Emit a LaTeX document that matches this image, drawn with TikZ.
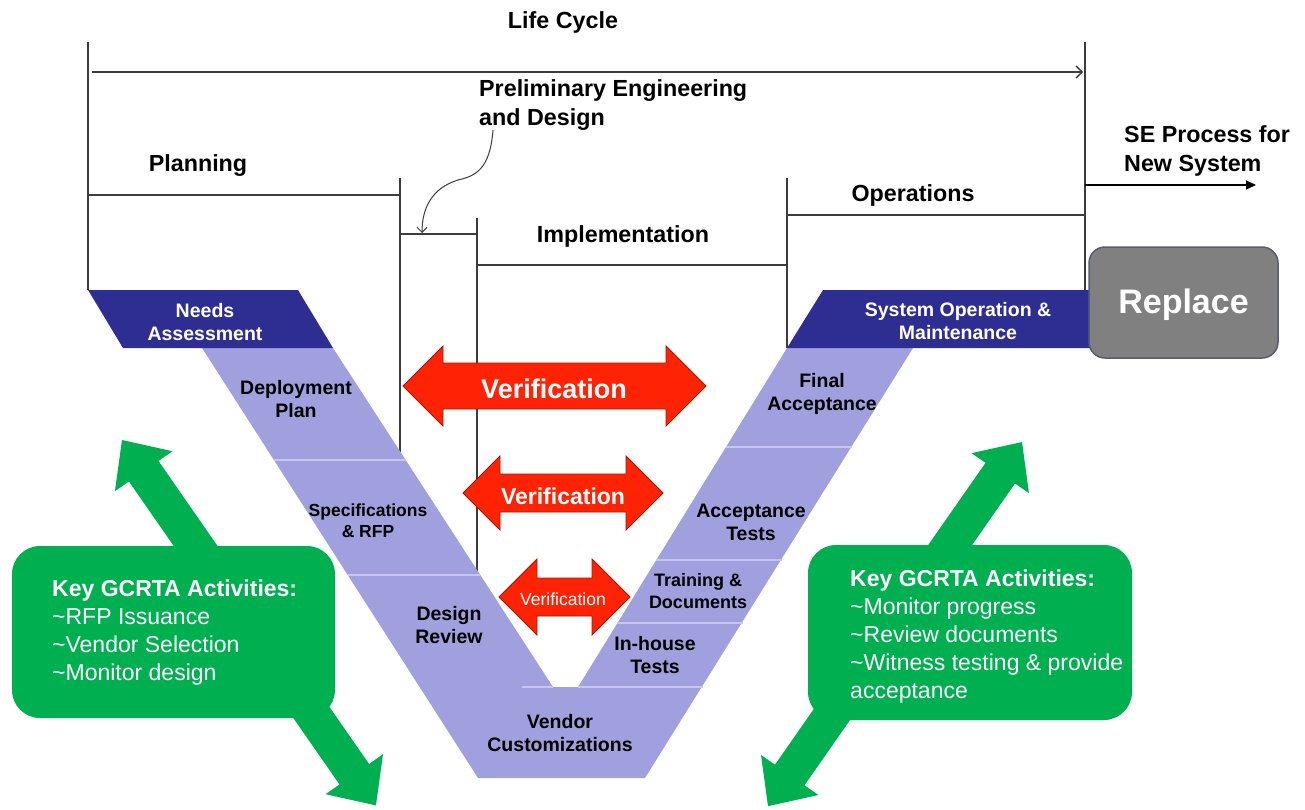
\documentclass[tikz,border=0pt]{standalone}
\usepackage{fontspec}
\setmainfont{Liberation Sans}
\usepackage{tikz}
\usetikzlibrary{arrows.meta}

\definecolor{navy}{RGB}{46,46,146}
\definecolor{lav}{RGB}{160,160,222}
\definecolor{lavline}{RGB}{198,198,238}
\definecolor{keygreen}{RGB}{0,176,80}
\definecolor{verred}{RGB}{255,35,5}
\definecolor{verdark}{RGB}{170,20,0}
\definecolor{replgray}{RGB}{128,128,128}
\definecolor{rule}{RGB}{60,60,60}

\newcommand{\fs}[2]{\fontsize{#1}{#2}\selectfont}
% double headed verification arrow: left tip, right tip, y, head half, shaft half
\newcommand{\verif}[5]{%
  \draw[verif] (#1,#3) -- ({#1+#4},{#3-#4}) -- ({#1+#4},{#3-#5}) -- ({#2-#4},{#3-#5})
    -- ({#2-#4},{#3-#4}) -- (#2,#3) -- ({#2-#4},{#3+#4}) -- ({#2-#4},{#3+#5})
    -- ({#1+#4},{#3+#5}) -- ({#1+#4},{#3+#4}) -- cycle;}
% green double arrow along the local x axis
\newcommand{\keyarrow}[1]{%
  \fill[keygreen] (0,0) -- (38,35) -- (38,18) -- ({#1-38},18) -- ({#1-38},35) -- (#1,0)
    -- ({#1-38},-35) -- ({#1-38},-18) -- (38,-18) -- (38,-35) -- cycle;}

\begin{document}
\begin{tikzpicture}[x=1pt, y=-1pt,
  line/.style={draw=rule, line width=1.3pt},
  txt/.style={inner sep=0pt, yshift=-2.5pt},
  phase/.style={txt, font=\fs{23.3}{29}\bfseries},
  vlabel/.style={txt, font=\fs{19.5}{23}\bfseries, align=center},
  vsmall/.style={txt, font=\fs{18}{22}\bfseries, align=center},
  verif/.style={fill=verred, draw=verdark, line width=0.8pt},
  keybox/.style={fill=keygreen, rounded corners=28pt},
  keytext/.style={txt, font=\fs{23}{28}, text=white, align=left, anchor=west}]
\useasboundingbox (0,0) rectangle (1305,809);

% life cycle brackets
\coordinate (lcl) at (88,42);
\coordinate (lcr) at (1085,42);
\draw[line] (lcl) -- (88,290);
\draw[line] (lcr) -- (1085,290);
\draw[line, -{Straight Barb[length=6pt,width=12pt]}] (92,72) -- (1083,72);
\node[phase] (lc) at (563,20) {Life Cycle};

\draw[line] (88,195) -- (400,195);
\draw[line] (400,178) -- (400,452);
\node[phase] (plan) at (198,163) {Planning};

\draw[line] (400,234) -- (477,234);
\draw[line] (477,218) -- (477,572);
\node[phase, align=left, anchor=west] (prelim) at (479,103) {Preliminary Engineering\\and Design};
\draw[line, line width=1pt, -{Straight Barb[length=5pt,width=10pt]}] (493,130)
  .. controls (490,170) and (475,176) .. (458,180)
  .. controls (432,188) and (422,208) .. (422,233);

\draw[line] (477,265) -- (787,265);
\draw[line] (787,178) -- (787,348);
\node[phase] (impl) at (623,234) {Implementation};

\draw[line] (787,215) -- (1085,215);
\node[phase] (ops) at (913,193) {Operations};

\coordinate (se) at (1085,185);
\coordinate (seend) at (1256,185);
\draw[draw=black, line width=1.3pt, -{Triangle[length=10pt,width=9pt]}] (se) -- (seend);
\node[phase, align=left, anchor=west] (senew) at (1124,148) {SE Process for\\New System};

% green arrows
\begin{scope}[shift={(122,440)}, rotate=-55.2]
  \keyarrow{445}
\end{scope}
\begin{scope}[shift={(1022,442)}, rotate=-124.9]
  \keyarrow{444}
\end{scope}

% the V
\fill[lav] (202,348) -- (333,348) -- (553,687) -- (578,687) -- (787,348) -- (913,348)
  -- (645,778) -- (478,778) -- cycle;
\draw[lavline, line width=1.5pt] (274,460) -- (406,460);
\draw[lavline, line width=1.5pt] (348,575) -- (480,575);
\draw[lavline, line width=1.5pt] (522,687) -- (553,687);
\draw[lavline, line width=1.5pt] (726,447) -- (852,447);
\draw[lavline, line width=1.5pt] (656,560) -- (782,560);
\draw[lavline, line width=1.5pt] (617,623) -- (743,623);
\draw[lavline, line width=1.5pt] (578,687) -- (703,687);

\fill[navy] (88,290) -- (298,290) -- (333,348) -- (123,348) -- cycle;
\fill[navy] (823,290) -- (1095,290) -- (1095,348) -- (787,348) -- cycle;

\node[vlabel, text=white] (needs) at (205,320) {Needs\\Assessment};
\node[vlabel] (deploy) at (296,397) {Deployment\\Plan};
\node[vsmall, font=\fs{17.5}{21}\bfseries] (spec) at (368,518) {Specifications\\\& RFP};
\node[vlabel] (design) at (449,623) {Design\\Review};
\node[vlabel] (vendor) at (560,731) {Vendor\\Customizations};
\node[vlabel] (inhouse) at (655,653) {In-house\\Tests};
\node[vsmall] (train) at (698,589) {Training \&\\Documents};
\node[vlabel] (acc) at (751,520) {Acceptance\\Tests};
\node[vlabel] (final) at (822,391) {Final\\Acceptance};
\node[vlabel, text=white] (sysop) at (958,319) {System Operation \&\\Maintenance};

\node[fill=replgray, draw={rgb,255:red,90;green,90;blue,120}, line width=1.5pt, rounded corners=16pt,
  minimum width=189pt, minimum height=111pt] (repl) at (1183.5,302.5) {};
\node[txt, text=white, font=\fs{34}{40}\bfseries] (repltext) at (repl.center) {Replace};

% verification arrows
\verif{403}{706}{386}{40}{23}
\verif{463}{663}{493}{37}{19}
\verif{499}{630}{597}{38}{19}
\node[txt, font=\fs{27}{30}\bfseries, text=white] (ver1) at (554,386) {Verification};
\node[txt, font=\fs{23}{26}\bfseries, text=white] (ver2) at (563,494) {Verification};
\node[txt, font=\fs{17.5}{20}, text=white] (ver3) at (563,597) {Verification};

% activity boxes
\node[keybox, minimum width=323pt, minimum height=172pt] (lbox) at (173.5,632) {};
\node[keytext] (ltext) at (52,630.5) {\textbf{Key GCRTA Activities:}\\\textasciitilde RFP Issuance\\\textasciitilde Vendor Selection\\\textasciitilde Monitor design};
\node[keybox, minimum width=324pt, minimum height=175pt] (rbox) at (970,632.5) {};
\node[keytext] (rtext) at (850,634.5) {\textbf{Key GCRTA Activities:}\\\textasciitilde Monitor progress\\\textasciitilde Review documents\\\textasciitilde Witness testing \& provide\\acceptance};
\end{tikzpicture}
\end{document}
